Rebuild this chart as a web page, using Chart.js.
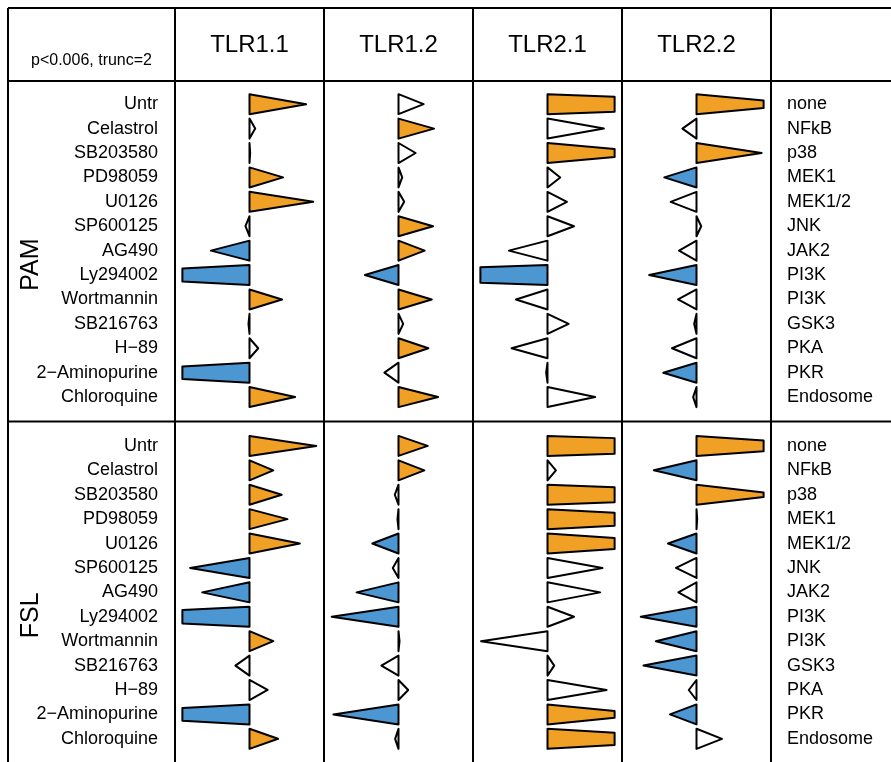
<!DOCTYPE html>
<html>
<head>
<meta charset="utf-8">
<script src="https://cdn.jsdelivr.net/npm/chart.js@4.4.1/dist/chart.umd.min.js"></script>
<style>
  html, body { margin: 0; padding: 0; background: #fff; }
</style>
</head>
<body>
<canvas id="myChart" width="891" height="762"></canvas>
<script>
// rows and columns
const inhibitors = ["Untr", "Celastrol", "SB203580", "PD98059", "U0126", "SP600125", "AG490",
    "Ly294002", "Wortmannin", "SB216763", "H\u221289", "2\u2212Aminopurine", "Chloroquine"];
const targets = ["none", "NFkB", "p38", "MEK1", "MEK1/2", "JNK", "JAK2",
    "PI3K", "PI3K", "GSK3", "PKA", "PKR", "Endosome"];
const receptors = ["TLR1.1", "TLR1.2", "TLR2.1", "TLR2.2"];
const stimuli = ["PAM", "FSL"];
const trunc = 2;

// effect per inhibitor (one array per stimulus and receptor), 1 = significant
const pamTLR11 = [1.69, 0.17, 0.02, 1.0, 1.9, -0.12, -1.15, -5.7, 0.97, -0.03, 0.26, -5.4, 1.36];
const pamTLR11Sig = [1, 0, 0, 1, 1, 0, 1, 1, 1, 0, 0, 1, 1];
const pamTLR12 = [0.75, 1.06, 0.51, 0.11, 0.17, 1.03, 0.78, -1.0, 0.99, 0.14, 0.89, -0.42, 1.18];
const pamTLR12Sig = [0, 1, 0, 0, 0, 1, 1, 1, 1, 0, 1, 0, 1];
const pamTLR21 = [8, 1.68, 3.3, 0.38, 0.58, 0.79, -1.15, -8.7, -0.94, 0.63, -1.07, -0.04, 1.42];
const pamTLR21Sig = [1, 0, 1, 0, 0, 0, 0, 1, 0, 0, 0, 0, 0];
const pamTLR22 = [3.2, -0.42, 1.94, -0.96, -0.77, 0.14, -0.52, -1.41, -0.55, -0.07, -0.73, -0.99, -0.1];
const pamTLR22Sig = [1, 0, 1, 1, 0, 0, 0, 1, 0, 0, 0, 1, 0];

const fslTLR11 = [1.99, 0.71, 0.96, 1.13, 1.5, -1.77, -1.41, -6.0, 0.71, -0.42, 0.54, -5.4, 0.85];
const fslTLR11Sig = [1, 1, 1, 1, 1, 1, 1, 1, 1, 0, 0, 1, 1];
const fslTLR12 = [0.87, 0.77, -0.11, -0.03, -0.78, -0.17, -1.25, -1.99, 0.03, -0.51, 0.29, -1.94, -0.1];
const fslTLR12Sig = [1, 1, 0, 0, 1, 0, 1, 1, 0, 0, 0, 1, 0];
const fslTLR21 = [9, 0.25, 8, 5.7, 4.4, 1.64, 1.57, 0.79, -1.98, 0.2, 1.76, 3.0, 5.2];
const fslTLR21Sig = [1, 0, 1, 1, 1, 0, 0, 0, 0, 0, 0, 1, 1];
const fslTLR22 = [4.4, -1.27, 2.6, 0.02, -0.85, -0.61, -0.54, -1.66, -1.21, -1.58, -0.23, -0.79, 0.76];
const fslTLR22Sig = [1, 1, 1, 0, 1, 0, 0, 1, 1, 1, 0, 1, 0];

const panels = [
    { values: [pamTLR11, pamTLR12, pamTLR21, pamTLR22], sig: [pamTLR11Sig, pamTLR12Sig, pamTLR21Sig, pamTLR22Sig] },
    { values: [fslTLR11, fslTLR12, fslTLR21, fslTLR22], sig: [fslTLR11Sig, fslTLR12Sig, fslTLR21Sig, fslTLR22Sig] },
];

const COL = 4.44;          // x units per receptor column
const GAP = 14;            // row offset of the second panel
const FRAME = 8;
const ORANGE = "#F0A024";
const BLUE = "#4C96D2";
const FONT = "'Liberation Sans', Arial, Helvetica, sans-serif";
const labelShift = [14, 23];

const rowTicks = [];
for (let p = 0; p < stimuli.length; p++) {
    for (let i = 0; i < inhibitors.length; i++) rowTicks.push(p * GAP + i);
}
const rowLabel = (v, names) => {
    const i = Math.round(v) % GAP;
    return i < names.length ? names[i] : "";
};
const noPad = (s) => { s.paddingTop = 0; s.paddingBottom = 0; s.paddingLeft = 0; s.paddingRight = 0; };

const shapes = {
    id: "shapes",
    afterDraw(chart) {
        const { ctx, scales: { x, y } } = chart;
        const W = chart.width;
        const H = chart.height;
        const rowPx = Math.abs(y.getPixelForValue(1) - y.getPixelForValue(0));
        const half = rowPx * 0.41;

        ctx.save();
        // table lines
        ctx.strokeStyle = "#000";
        ctx.lineWidth = 2;
        ctx.beginPath();
        const hLines = [FRAME, chart.chartArea.top, y.getPixelForValue(GAP - 1)];
        hLines.forEach((yy) => { ctx.moveTo(FRAME, yy); ctx.lineTo(W, yy); });
        ctx.moveTo(FRAME, FRAME); ctx.lineTo(FRAME, H);
        for (let j = 0; j <= receptors.length; j++) {
            const xx = x.getPixelForValue(j * COL - COL / 2);
            ctx.moveTo(xx, FRAME); ctx.lineTo(xx, H);
        }
        ctx.stroke();

        // texts
        ctx.fillStyle = "#000";
        ctx.font = "16px " + FONT;
        ctx.textAlign = "center";
        ctx.textBaseline = "alphabetic";
        ctx.fillText("p<0.006, trunc=2", (FRAME + chart.chartArea.left) / 2, 65);
        ctx.font = "25px " + FONT;
        ctx.textBaseline = "middle";
        stimuli.forEach((s, p) => {
            const yc = (y.getPixelForValue(p * GAP) + y.getPixelForValue(p * GAP + inhibitors.length - 1)) / 2 + labelShift[p];
            ctx.save();
            ctx.translate(31, yc);
            ctx.rotate(-Math.PI / 2);
            ctx.fillText(s, 0, 0);
            ctx.restore();
        });

        // wedges
        ctx.lineWidth = 2;
        ctx.lineJoin = "round";
        panels.forEach((panel, p) => {
            panel.values.forEach((vals, j) => {
                vals.forEach((v, i) => {
                    const yc = y.getPixelForValue(p * GAP + i);
                    const a = Math.abs(v);
                    const len = Math.sign(v) * Math.min(a, trunc);
                    const x0 = x.getPixelForValue(j * COL);
                    const x1 = x.getPixelForValue(j * COL + len);
                    const tip = a > trunc ? half * (1 - trunc / a) : 0;
                    ctx.beginPath();
                    ctx.moveTo(x0, yc - half);
                    ctx.lineTo(x1, yc - tip);
                    if (tip > 0) ctx.lineTo(x1, yc + tip);
                    ctx.lineTo(x0, yc + half);
                    ctx.closePath();
                    ctx.fillStyle = panel.sig[j][i] ? (v > 0 ? ORANGE : BLUE) : "#fff";
                    ctx.fill();
                    ctx.stroke();
                });
            });
        });
        ctx.restore();
    },
};

let ctx = document.getElementById("myChart").getContext("2d");
let myChart = new Chart(ctx, {
    type: "scatter",
    data: { datasets: [] },
    options: {
        responsive: false,
        animation: false,
        events: [],
        layout: { padding: { left: FRAME, top: FRAME, right: 0, bottom: 0 } },
        plugins: { legend: { display: false }, tooltip: { enabled: false } },
        scales: {
            x: {
                type: "linear",
                position: "top",
                min: -COL / 2,
                max: receptors.length * COL - COL / 2,
                grid: { display: false, drawTicks: false },
                border: { display: false },
                afterBuildTicks: (s) => { s.ticks = receptors.map((_, j) => ({ value: j * COL })); },
                afterFit: (s) => { s.height = 73; noPad(s); },
                ticks: {
                    autoSkip: false,
                    maxRotation: 0,
                    padding: 21,
                    color: "#000",
                    font: { family: FONT, size: 24 },
                    callback: (v, i) => receptors[i],
                },
            },
            y: {
                type: "linear",
                position: "left",
                reverse: true,
                min: -0.95,
                max: GAP + inhibitors.length - 1 + 0.95,
                grid: { display: false, drawTicks: false },
                border: { display: false },
                afterBuildTicks: (s) => { s.ticks = rowTicks.map((v) => ({ value: v })); },
                afterFit: (s) => { s.width = 167; noPad(s); },
                ticks: {
                    autoSkip: false,
                    padding: 17,
                    color: "#000",
                    font: { family: FONT, size: 18 },
                    callback: (v) => rowLabel(v, inhibitors),
                },
            },
            y2: {
                type: "linear",
                position: "right",
                reverse: true,
                min: -0.95,
                max: GAP + inhibitors.length - 1 + 0.95,
                grid: { display: false, drawTicks: false },
                border: { display: false },
                afterBuildTicks: (s) => { s.ticks = rowTicks.map((v) => ({ value: v })); },
                afterFit: (s) => { s.width = 120; noPad(s); },
                ticks: {
                    autoSkip: false,
                    padding: 16,
                    color: "#000",
                    font: { family: FONT, size: 18 },
                    callback: (v) => rowLabel(v, targets),
                },
            },
        },
    },
    plugins: [shapes],
});
</script>
</body>
</html>
